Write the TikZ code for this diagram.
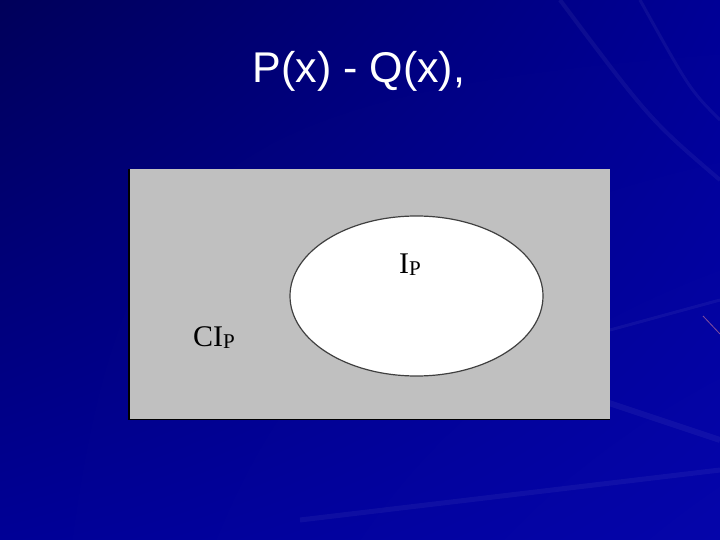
\documentclass[tikz,border=0pt]{standalone}
\usepackage{fontspec}
\setmainfont{Liberation Serif}
\newfontfamily\titlefont{Liberation Sans}
\usetikzlibrary{shapes.geometric,shadings}
\definecolor{bgdark}{RGB}{0,0,90}
\definecolor{bgmid}{RGB}{0,0,150}
\definecolor{bglight}{RGB}{5,5,170}
\definecolor{panelgrey}{RGB}{192,192,192}
\tikzset{
  streak/.style={line width=#1, draw=white, draw opacity=0.05},
  label/.style={inner sep=0pt, anchor=base west, font=\fontsize{30}{32}\selectfont},
}
\begin{document}
\begin{tikzpicture}[x=1pt,y=-1pt]
\useasboundingbox (0,0) rectangle (720,540);
% background
\shade[upper left=bgdark, upper right=bgmid, lower left=bgmid, lower right=bglight] (0,0) rectangle (720,540);
% faint streaks
\draw[streak=6pt] (600,400) -- (720,440);
\draw[streak=4pt] (560,0) .. controls (650,120) .. (720,180);
\draw[streak=3pt] (640,0) .. controls (690,90) .. (720,120);
\draw[streak=5pt] (300,520) -- (720,470);
\draw[streak=3pt] (610,330) -- (720,300);
\draw[draw=red!40, opacity=0.5, line width=0.8pt] (703,316) -- (720,334);
% title
\node[text=white, font=\titlefont\fontsize{43}{46}\selectfont, anchor=base, inner sep=0pt] (title) at (359,83) {P(x) - Q(x),};
% panel
\node[draw=none, fill=panelgrey, minimum width=481pt, minimum height=250pt, inner sep=0pt, anchor=north west] (panel) at (129,169) {};
\draw[black, line width=1.6pt] (panel.north west) -- (panel.south west) -- (panel.south east);
% ellipse
\node[ellipse, draw=black!75, line width=1.2pt, fill=white, minimum width=253pt, minimum height=160pt, inner sep=0pt] (ip) at (416.5,296) {};
% labels
\node[label] (iplabel) at (399,273) {I\raisebox{-2pt}{\fontsize{21}{22}\selectfont P}};
\node[label] (ciplabel) at (193,346) {CI\raisebox{-2pt}{\fontsize{21}{22}\selectfont P}};
\end{tikzpicture}
\end{document}
